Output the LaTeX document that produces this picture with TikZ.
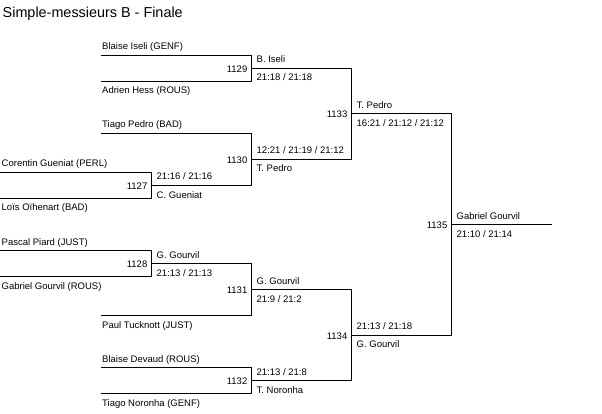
\documentclass[tikz,border=0pt]{standalone}
\usepackage{fontspec}
\setmainfont{Liberation Sans}
\newcommand{\bkentry}[7]{% name, xs, xe, y, text x, text baseline y, text
  \coordinate (#1s) at (#2,#4);
  \coordinate (#1e) at (#3,#4);
  \draw[bkline] (#1s) -- (#1e);
  \node[lbl,anchor=base west] (#1t) at (#5,#6) {#7};
}
\newcommand{\bkmatch}[8]{% name, vx, ytop, ybot, ymid, number, above, below
  \coordinate (#1top) at (#2,#3);
  \coordinate (#1bot) at (#2,#4);
  \coordinate (#1mid) at (#2,#5);
  \coordinate (#1end) at ({#2+100},#5);
  \draw[bkline] (#1top) -- (#1bot);
  \draw[bkline] (#1mid) -- (#1end);
  \node[lbl,anchor=base east] (#1n) at ({#2-4},{#5+4}) {#6};
  \node[lbl,anchor=base west] (#1a) at ({#2+5},{#5-5.5}) {#7};
  \node[lbl,anchor=base west] (#1b) at ({#2+5},{#5+12.5}) {#8};
}
\begin{document}
\begin{tikzpicture}[x=1pt,y=-1pt,
  bkline/.style={draw=black,line width=1pt,line cap=rect},
  lbl/.style={inner sep=0pt,font=\fontsize{9.5}{11}\selectfont},
  ttl/.style={inner sep=0pt,font=\fontsize{14.4}{16}\selectfont}]
\useasboundingbox[fill=white] (0,0) rectangle (602,414);
\node[ttl,anchor=base west] (title) at (2.5,18) {Simple-messieurs B - Finale};
% entries
\bkentry{p1}{101}{251.5}{55.5}{102}{50}{Blaise Iseli (GENF)}
\bkentry{p2}{101}{251.5}{81.5}{102}{94}{Adrien Hess (ROUS)}
\bkentry{p3}{101}{251.5}{133.5}{102}{128}{Tiago Pedro (BAD)}
\bkentry{p4}{0}{151.5}{172.5}{1.5}{167}{Corentin Gueniat (PERL)}
\bkentry{p5}{0}{151.5}{198.5}{1.5}{211}{Loïs Oïhenart (BAD)}
\bkentry{p6}{0}{151.5}{250.5}{1.5}{245}{Pascal Piard (JUST)}
\bkentry{p7}{0}{151.5}{276.5}{1.5}{289}{Gabriel Gourvil (ROUS)}
\bkentry{p8}{101}{251.5}{315.5}{102}{328}{Paul Tucknott (JUST)}
\bkentry{p9}{101}{251.5}{367.5}{102}{362}{Blaise Devaud (ROUS)}
\bkentry{p10}{101}{251.5}{393.5}{102}{406}{Tiago Noronha (GENF)}
% matches
\bkmatch{m1127}{151.5}{172.5}{198.5}{185.5}{1127}{21:16 / 21:16}{C. Gueniat}
\bkmatch{m1128}{151.5}{250.5}{276.5}{263.5}{1128}{G. Gourvil}{21:13 / 21:13}
\bkmatch{m1129}{251.5}{55.5}{81.5}{68.5}{1129}{B. Iseli}{21:18 / 21:18}
\bkmatch{m1130}{251.5}{133.5}{185.5}{159.5}{1130}{12:21 / 21:19 / 21:12}{T. Pedro}
\bkmatch{m1131}{251.5}{263.5}{315.5}{289.5}{1131}{G. Gourvil}{21:9 / 21:2}
\bkmatch{m1132}{251.5}{367.5}{393.5}{380.5}{1132}{21:13 / 21:8}{T. Noronha}
\bkmatch{m1133}{351.5}{68.5}{159.5}{114}{1133}{T. Pedro}{16:21 / 21:12 / 21:12}
\bkmatch{m1134}{351.5}{289.5}{380.5}{335}{1134}{21:13 / 21:18}{G. Gourvil}
\bkmatch{m1135}{451.5}{114}{335}{224.5}{1135}{Gabriel Gourvil}{21:10 / 21:14}
\end{tikzpicture}
\end{document}
